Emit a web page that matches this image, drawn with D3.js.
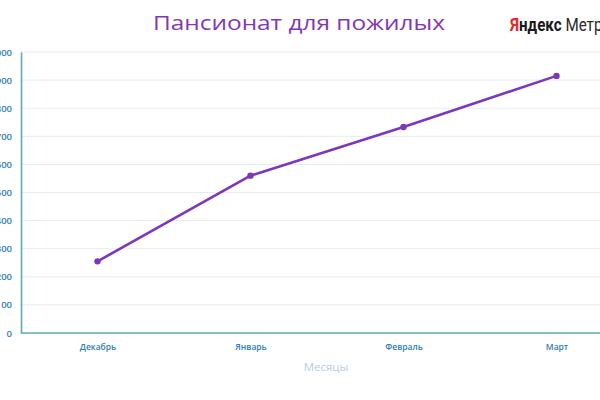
<!DOCTYPE html>
<html>
<head>
<meta charset="utf-8">
<script src="https://cdn.jsdelivr.net/npm/d3@7"></script>
<style>
  html, body { margin: 0; padding: 0; background: #fff; overflow: hidden; }
  svg { display: block; }
</style>
</head>
<body>
<svg id="chart" width="600" height="400"></svg>
<script>
const months = ["Декабрь", "Январь", "Февраль", "Март"];
const visits = [255, 560, 733, 915];
const yTicks = [0, 100, 200, 300, 400, 500, 600, 700, 800, 900, 1000];
const titleText = "Пансионат для пожилых";
const xTitle = "Месяцы";

const svg = d3.select("#chart");
const W = 600, H = 400;
const mLeft = 21, mRight = 633, mTop = 52, mBottom = 333;

const x = d3.scalePoint().domain(months).range([mLeft, mRight]).padding(0.5);
const y = d3.scaleLinear().domain([0, 1000]).range([mBottom, mTop]);

// gridlines
svg.append("g")
  .selectAll("line")
  .data(yTicks.filter(d => d > 0))
  .join("line")
  .attr("x1", mLeft).attr("x2", W)
  .attr("y1", d => y(d)).attr("y2", d => y(d))
  .attr("stroke", "#e6ecef").attr("stroke-width", 1);

// y axis
const yAxis = svg.append("g")
  .attr("transform", `translate(${mLeft},0)`)
  .call(d3.axisLeft(y).tickValues(yTicks).tickSize(0).tickPadding(9));
yAxis.select(".domain").attr("stroke", "#5fa9bd").attr("stroke-width", 1.6);
yAxis.selectAll("text")
  .attr("fill", "#2f7db5")
  .style("font-family", "'Open Sans', 'DejaVu Sans', sans-serif")
  .style("font-size", "9.5px")
  .style("font-weight", "600");

// x axis
const xAxis = svg.append("g")
  .attr("transform", `translate(0,${mBottom})`)
  .call(d3.axisBottom(x).tickSize(0).tickPadding(11));
xAxis.select(".domain").attr("stroke", "#5fa9bd").attr("stroke-width", 1.6)
  .attr("d", `M${mLeft},0H${W + 40}`);
xAxis.selectAll("text")
  .attr("fill", "#2f7db5")
  .style("font-family", "'Open Sans', 'DejaVu Sans', sans-serif")
  .style("font-size", "8.5px")
  .style("font-weight", "600");

// axis title
svg.append("text")
  .attr("x", 326).attr("y", 371)
  .attr("text-anchor", "middle")
  .attr("fill", "#b9cde2")
  .style("font-family", "'Open Sans', 'DejaVu Sans', sans-serif")
  .style("font-size", "11.5px")
  .text(xTitle);

// line
const data = months.map((m, i) => ({ m, v: visits[i] }));
svg.append("path")
  .datum(data)
  .attr("fill", "none")
  .attr("stroke", "#7d37b8")
  .attr("stroke-width", 2.6)
  .attr("stroke-linejoin", "round")
  .attr("d", d3.line().x(d => x(d.m)).y(d => y(d.v)));

svg.append("g")
  .selectAll("circle")
  .data(data)
  .join("circle")
  .attr("cx", d => x(d.m)).attr("cy", d => y(d.v))
  .attr("r", 3.2)
  .attr("fill", "#7d37b8");

// title
svg.append("text")
  .attr("x", 153).attr("y", 30)
  .attr("text-anchor", "start")
  .attr("fill", "#8437b0")
  .attr("textLength", 292)
  .attr("lengthAdjust", "spacingAndGlyphs")
  .style("font-family", "'Open Sans', 'Liberation Sans', sans-serif")
  .style("font-size", "19.5px")
  .text(titleText);

// Yandex Metrika logo text
const logo = svg.append("text")
  .attr("transform", "translate(510,31) scale(0.82,1)")
  .style("font-family", "'Roboto', 'Liberation Sans', sans-serif")
  .style("font-size", "18.5px");
logo.append("tspan").attr("fill", "#e8262b").style("font-weight", "700").text("Я");
logo.append("tspan").attr("fill", "#1a1a1a").style("font-weight", "700").text("ндекс");
logo.append("tspan").attr("fill", "#2a2a2a").style("font-weight", "400").text(" Метрика");
</script>
</body>
</html>
